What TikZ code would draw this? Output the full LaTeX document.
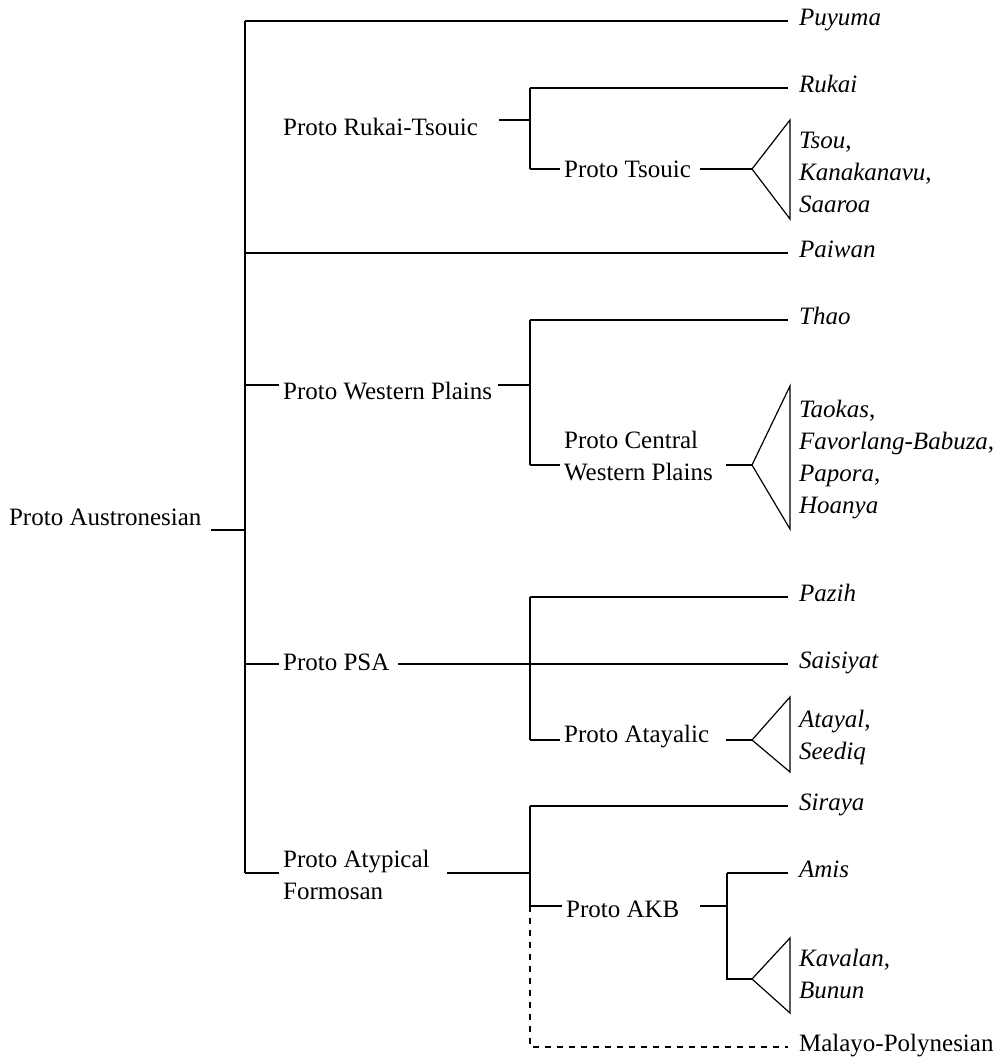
\documentclass[tikz,border=0pt]{standalone}
\usepackage{fontspec}
\setmainfont{Liberation Serif}
\usetikzlibrary{positioning}
\newcommand\treefont{\fontsize{12.5}{16}\selectfont}
\tikzset{
  proto/.style={anchor=base west, inner sep=0pt, align=left, font=\treefont},
  lang/.style={anchor=mid west, inner sep=0pt, align=left, font=\treefont\itshape},
  leaf/.style={shorten >=5pt},
  stub/.style={shorten >=1.5pt},
  fan/.style={line width=0.6pt, line join=miter},
}

\begin{document}
\begin{tikzpicture}[x=0.5pt, y=-0.5pt, line width=1.1pt]
\useasboundingbox (0,0) rectangle (1002,1057);

% root
\node[proto] (pan) at (8,525) {Proto Austronesian};
\coordinate (pan-r) at (211,530);
\coordinate (top) at (245,21);
\coordinate (bot) at (245,873);
\draw (pan-r) -- (pan-r -| top);
\draw (top) -- (bot);

% Puyuma
\node[lang] (puyuma) at (798,21) {Puyuma};
\draw[leaf] (top) -- (top -| puyuma.west);

% Rukai-Tsouic
\node[proto] (rt) at (282,135) {Proto Rukai-Tsouic};
\coordinate (rt-r) at (499,120);
\coordinate (rt-b) at (530,120);
\coordinate (rukai-b) at (530,88);
\coordinate (pt-b) at (530,169);
\draw (rt-r) -- (rt-b);
\draw (rukai-b) -- (pt-b);
\node[lang] (rukai) at (798,88) {Rukai};
\draw[leaf] (rukai-b) -- (rukai-b -| rukai.west);
\node[proto] (pt) at (563,177) {Proto Tsouic};
\draw[stub] (pt-b) -- (pt-b -| pt.west);
\coordinate (pt-r) at (700,169);
\coordinate (pt-fan) at (752,169);
\draw (pt-r) -- (pt-fan);
\draw[fan] (pt-fan) -- (790,120) -- (790,219) -- cycle;
\node[lang, anchor=west] (tsou) at (798,172)
  {Tsou\textup{,}\\Kanakanavu\textup{,}\\Saaroa};

% Paiwan
\coordinate (paiwan-b) at (245,253);
\node[lang] (paiwan) at (798,253) {Paiwan};
\draw[leaf] (paiwan-b) -- (paiwan-b -| paiwan.west);

% Western Plains
\coordinate (wp-b) at (245,385);
\node[proto] (wp) at (282,399) {Proto Western Plains};
\draw[stub] (wp-b) -- (wp-b -| wp.west);
\coordinate (wp-r) at (498,385);
\coordinate (wp-j) at (530,385);
\coordinate (thao-b) at (530,320);
\coordinate (cwp-b) at (530,465);
\draw (wp-r) -- (wp-j);
\draw (thao-b) -- (cwp-b);
\node[lang] (thao) at (798,320) {Thao};
\draw[leaf] (thao-b) -- (thao-b -| thao.west);
\node[proto, anchor=west] (cwp) at (563,456) {Proto Central\\Western Plains};
\draw[stub] (cwp-b) -- (cwp-b -| cwp.west);
\coordinate (cwp-r) at (726,465);
\coordinate (cwp-fan) at (752,465);
\draw (cwp-r) -- (cwp-fan);
\draw[fan] (cwp-fan) -- (790,386) -- (790,529) -- cycle;
\node[lang, anchor=west] (taokas) at (798,460)
  {Taokas\textup{,}\\Favorlang-Babuza\textup{,}\\Papora\textup{,}\\Hoanya};

% PSA
\coordinate (psa-b) at (245,664);
\node[proto] (psa) at (282,670) {Proto PSA};
\draw[stub] (psa-b) -- (psa-b -| psa.west);
\coordinate (psa-r) at (398,664);
\coordinate (pazih-b) at (530,597);
\coordinate (ata-b) at (530,740);
\node[lang] (saisiyat) at (798,664) {Saisiyat};
\draw[leaf] (psa-r) -- (psa-r -| saisiyat.west);
\draw (pazih-b) -- (ata-b);
\node[lang] (pazih) at (798,597) {Pazih};
\draw[leaf] (pazih-b) -- (pazih-b -| pazih.west);
\node[proto] (ata) at (563,742) {Proto Atayalic};
\draw[stub] (ata-b) -- (ata-b -| ata.west);
\coordinate (ata-r) at (726,740);
\coordinate (ata-fan) at (752,740);
\draw (ata-r) -- (ata-fan);
\draw[fan] (ata-fan) -- (790,697) -- (790,772) -- cycle;
\node[lang, anchor=west] (atayal) at (798,737) {Atayal\textup{,}\\Seediq};

% Atypical Formosan
\node[proto, anchor=west] (paf) at (282,875) {Proto Atypical\\Formosan};
\draw[stub] (bot) -- (bot -| paf.west);
\coordinate (paf-r) at (447,873);
\coordinate (paf-j) at (530,873);
\coordinate (siraya-b) at (530,806);
\coordinate (akb-b) at (530,906);
\coordinate (mp-b) at (530,1047);
\draw (paf-r) -- (paf-j);
\draw (siraya-b) -- (akb-b);
\node[lang] (siraya) at (798,806) {Siraya};
\draw[leaf] (siraya-b) -- (siraya-b -| siraya.west);
\node[proto] (akb) at (565,917) {Proto AKB};
\draw[stub] (akb-b) -- (akb-b -| akb.west);
\coordinate (akb-r) at (700,906);
\coordinate (akb-j) at (727,906);
\coordinate (amis-b) at (727,873);
\coordinate (kav-b) at (727,979);
\coordinate (kav-fan) at (752,979);
\draw (akb-r) -- (akb-j);
\draw (amis-b) -- (kav-b) -- (kav-fan);
\node[lang] (amis) at (798,873) {Amis};
\draw[leaf] (amis-b) -- (amis-b -| amis.west);
\draw[fan] (kav-fan) -- (790,938) -- (790,1013) -- cycle;
\node[lang, anchor=west] (kavalan) at (798,974) {Kavalan\textup{,}\\Bunun};

% Malayo-Polynesian
\node[lang, font=\treefont\upshape] (mp) at (798,1047) {Malayo-Polynesian};
\draw[dashed, leaf] (akb-b) -- (mp-b) -- (mp-b -| mp.west);
\end{tikzpicture}
\end{document}
